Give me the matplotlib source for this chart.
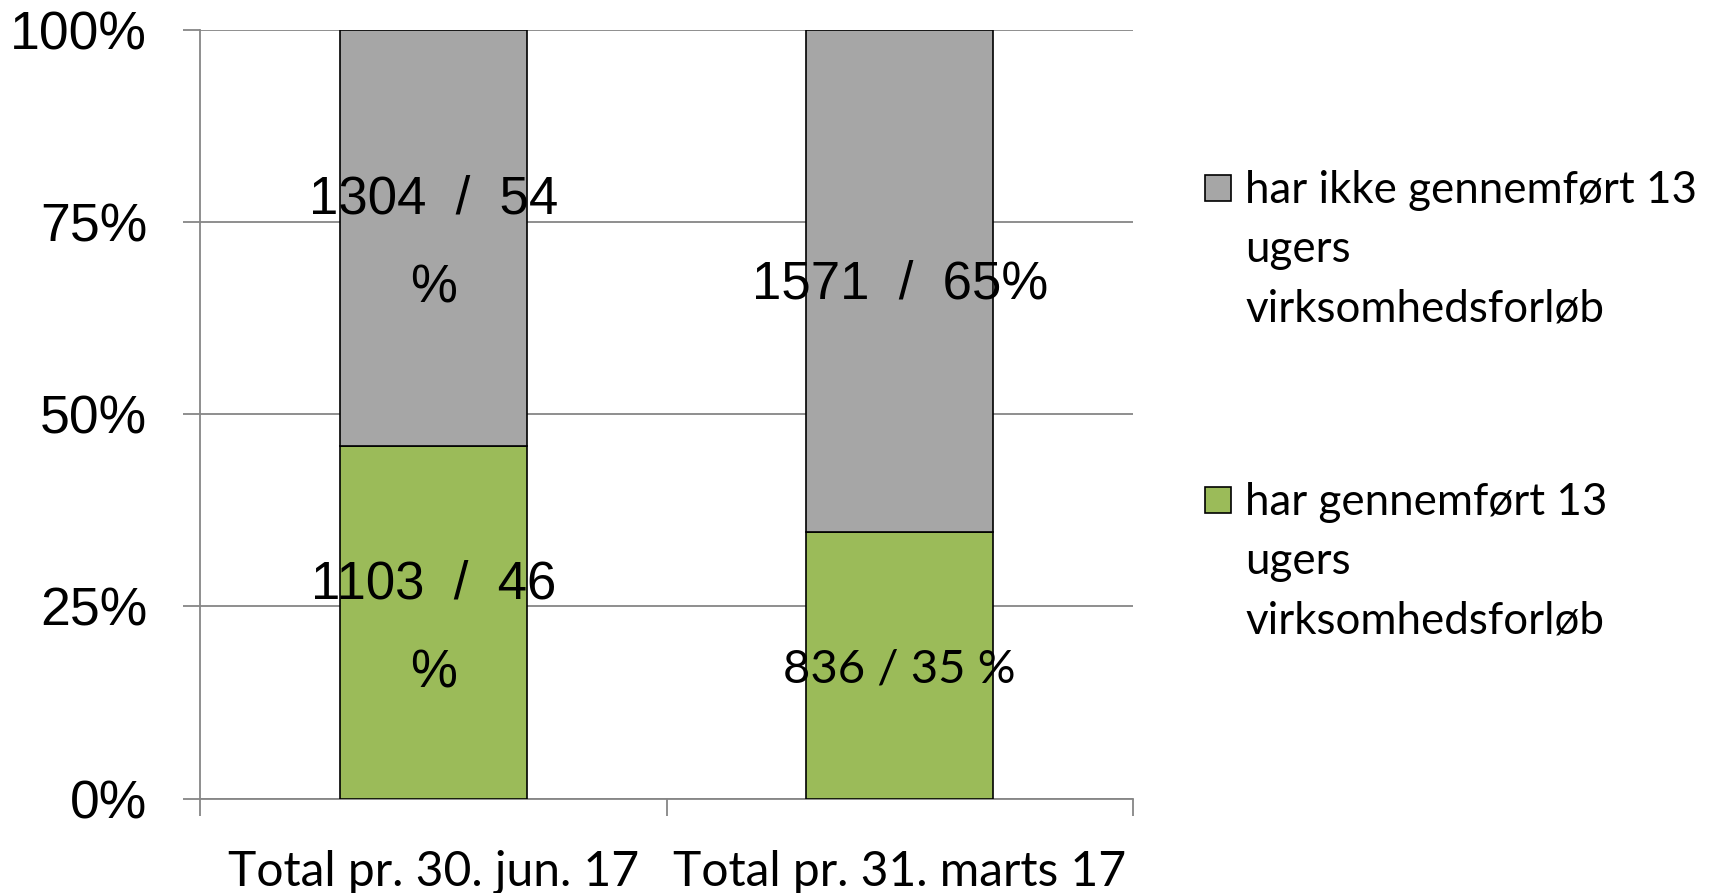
import matplotlib
matplotlib.use("Agg")
import matplotlib.pyplot as plt
from matplotlib.patches import Rectangle
import numpy as np

categories = ["Total pr. 30. jun. 17", "Total pr. 31. marts 17"]
done_pct = [0.458, 0.347]
notdone_pct = [0.542, 0.653]
done_labels = ["1103  /  46\n%", "836 / 35 %"]
notdone_labels = ["1304  /  54\n%", "1571  /  65%"]
legend_labels = ["har ikke gennemført 13\nugers\nvirksomhedsforløb",
                 "har gennemført 13\nugers\nvirksomhedsforløb"]
yticks = [0, 0.25, 0.5, 0.75, 1.0]
ytick_labels = ["0%", "25%", "50%", "75%", "100%"]

GREEN = "#9BBB59"
GRAY = "#A6A6A6"
AXC = "#868686"

fig = plt.figure(figsize=(17.13, 8.93), dpi=100)
ax = fig.add_axes([200/1713, 1-798.6/893, (1133-200)/1713, (798.6-29.5)/893])

x = np.arange(len(categories))
w = 0.4
ax.bar(x, done_pct, width=w, color=GREEN, edgecolor="black", linewidth=1.2, zorder=3)
ax.bar(x, notdone_pct, width=w, bottom=done_pct, color=GRAY, edgecolor="black", linewidth=1.2, zorder=3)

ax.set_xlim(-0.5, 1.5)
ax.set_ylim(0, 1)
ax.set_yticks(yticks)
ax.set_yticklabels(ytick_labels, fontfamily="Liberation Sans", fontsize=38.5)
ax.yaxis.grid(True, color=AXC, linewidth=1.3, zorder=0)
ax.set_xticks(x)
ax.set_xticklabels(categories, fontfamily="Lato", fontsize=34.6)
ax.set_xticks([-0.5, 0.5, 1.5], minor=True)
ax.tick_params(axis="x", which="major", length=0, pad=37)
ax.tick_params(axis="x", which="minor", length=12, width=1.3, color=AXC, direction="out")
ax.tick_params(axis="y", length=12, width=1.3, color=AXC, pad=26)
for s in ["top", "right"]:
    ax.spines[s].set_visible(False)
for s in ["left", "bottom"]:
    ax.spines[s].set_color(AXC)
    ax.spines[s].set_linewidth(1.3)

# data labels
for i in range(len(categories)):
    yc = done_pct[i] / 2
    if i == 0:
        ax.text(x[i], yc - 0.009, done_labels[i], ha="center", va="center", fontfamily="Liberation Sans",
                fontsize=38, linespacing=2.0, zorder=5)
    else:
        ax.text(x[i], yc - 0.006, done_labels[i], ha="center", va="center", fontfamily="Lato",
                fontsize=34, zorder=5)
    yc2 = done_pct[i] + notdone_pct[i] / 2
    ax.text(x[i], yc2 - (0.005 if i == 1 else 0.008), notdone_labels[i], ha="center", va="center",
            fontfamily="Liberation Sans", fontsize=38, linespacing=2.0, zorder=5)

# legend (manual)
leg_colors = [GRAY, GREEN]
sq_tops = [175, 487]
for c, top, lab in zip(leg_colors, sq_tops, legend_labels):
    fig.patches.append(Rectangle((1205/1713, 1-(top+26)/893), 26/1713, 26/893,
                                 transform=fig.transFigure, facecolor=c, edgecolor="black",
                                 linewidth=1.2))
    fig.text(1245/1713, 1-(top-5)/893, lab, ha="left", va="top", fontfamily="Lato",
             fontsize=31.6, linespacing=1.56)

fig.savefig("out.png", dpi=100)
